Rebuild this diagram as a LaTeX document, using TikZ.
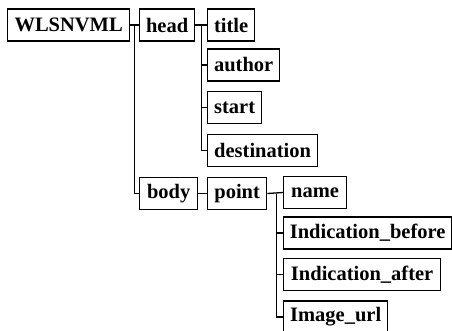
\documentclass[tikz,border=0pt]{standalone}
\usepackage{fontspec}
\setmainfont{Liberation Serif}
\usepackage{tikz}
\usetikzlibrary{positioning}

\tikzset{
	tag/.style={draw, line width=1.3pt, anchor=west, minimum height=32pt,
		inner xsep=3pt, inner ysep=2pt, minimum width=#1, align=left,
		font=\bfseries\fontsize{20.5}{22}\selectfont},
	tag/.default=20pt,
	branch/.style={line width=1.3pt}
}

\begin{document}
\begin{tikzpicture}[x=1pt, y=-1pt]
	\useasboundingbox (0,0) rectangle (452,330);

	%% ROOT
	\node[tag=122pt](wlsnvml) at (7,25){WLSNVML};
	\node[tag=55pt](head) at (139,25){head};
	\node[tag=58pt](body) at (139,193.5){body};

	\draw[branch] (wlsnvml.east) -- (head.west);
	\draw[branch] ([xshift=4pt]wlsnvml.east) |- (body.west);

	%% HEAD
	\node[tag=47pt](title) at (207,25){title};
	\node[tag=72pt](author) at (207,65){author};
	\node[tag=54pt](start) at (207,107.5){start};
	\node[tag=110pt](destination) at (207,150.5){destination};

	\draw[branch] (head.east) -- (title.west);
	\draw[branch] ([xshift=6pt]head.east) |- (destination.west);
	\draw[branch] ([xshift=6pt]head.east) |- (author.west);
	\draw[branch] ([xshift=6pt]head.east) |- (start.west);

	%% BODY
	\node[tag=59pt](point) at (207,193.5){point};
	\node[tag=63pt](name) at (283,192.5){name};
	\node[tag=168pt](ind_before) at (283,233){Indication\_before};
	\node[tag=157pt](ind_after) at (283,274.5){Indication\_after};
	\node[tag=104pt](image_url) at (283,317){Image\_url};

	\draw[branch] (body.east) -- (point.west);
	\draw[branch] (point.east) -- (name.west);
	\draw[branch] ([xshift=9pt]point.east) |- (image_url.west);
	\draw[branch] ([xshift=9pt]point.east) |- (ind_before.west);
	\draw[branch] ([xshift=9pt]point.east) |- (ind_after.west);
\end{tikzpicture}
\end{document}
